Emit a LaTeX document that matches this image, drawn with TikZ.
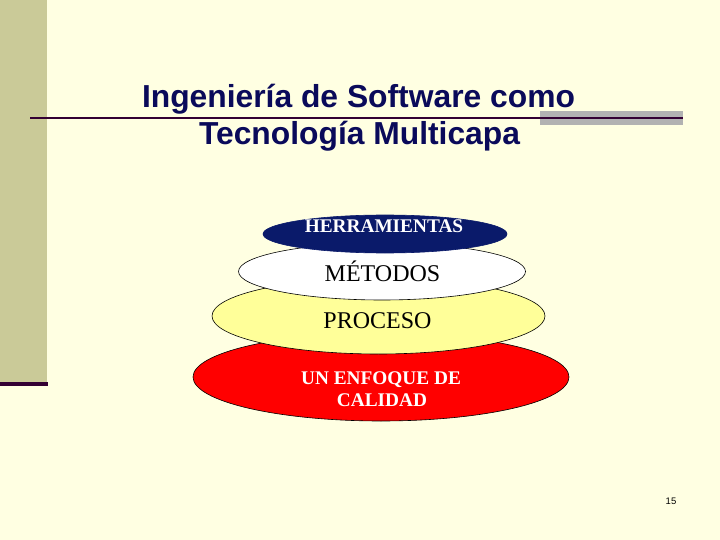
\documentclass[tikz,border=0pt]{standalone}
\usepackage{fontspec}
\setmainfont{Liberation Serif}
\newfontfamily\arialfont{Liberation Sans}
\usetikzlibrary{shapes.geometric}
\definecolor{bgc}{HTML}{FFFFE2}
\definecolor{barc}{HTML}{CACA98}
\definecolor{darkp}{HTML}{330033}
\definecolor{grayr}{HTML}{B2B2B2}
\definecolor{titlec}{HTML}{0A0A5A}
\definecolor{navyc}{HTML}{0A1A6A}
\definecolor{yelc}{HTML}{FFFF99}
\definecolor{redc}{HTML}{FF0000}
\tikzset{
  layer/.style={ellipse, draw=black, line width=0.6pt, inner sep=0pt},
  titletxt/.style={font=\arialfont\bfseries\fontsize{31.8}{38}\selectfont, text=titlec, anchor=base, inner sep=0pt},
  boldlbl/.style={font=\bfseries\fontsize{19.3}{22}\selectfont, text=white, anchor=base, inner sep=0pt},
  plainlbl/.style={font=\fontsize{24}{28}\selectfont, text=black, anchor=base, inner sep=0pt}
}
\begin{document}
\begin{tikzpicture}[x=1pt,y=-1pt]
\useasboundingbox (0,0) rectangle (720,540);
\fill[bgc] (0,0) rectangle (720,540);
% left bar
\fill[barc] (0,0) rectangle (47,382);
\fill[darkp] (0,382) rectangle (48,386);
% title rule
\fill[grayr] (540,111) rectangle (683,125);
\draw[darkp, line width=2pt] (30,118) -- (683,118);
% title
\node[titletxt] (t1) at (358.5,107.5) {Ingeniería de Software como};
\node[titletxt] (t2) at (359.5,145) {Tecnología Multicapa};
% layers
\node[layer, fill=redc, minimum width=376pt, minimum height=88pt] (calidad) at (381,377) {};
\node[layer, fill=yelc, minimum width=333pt, minimum height=76pt] (proceso) at (378.5,316) {};
\node[layer, fill=white, minimum width=287pt, minimum height=57pt] (metodos) at (382,271.5) {};
\node[layer, fill=navyc, draw=navyc, minimum width=244pt, minimum height=38pt] (herr) at (385,234) {};
% labels
\node[boldlbl] (lh) at (384,233) {HERRAMIENTAS};
\node[plainlbl] (lm) at (382.5,281) {MÉTODOS};
\node[plainlbl] (lp) at (377.5,328) {PROCESO};
\node[boldlbl] (lc1) at (381,384) {UN ENFOQUE DE};
\node[boldlbl] (lc2) at (382,406) {CALIDAD};
% page number
\node[font=\arialfont\fontsize{9.5}{11}\selectfont, anchor=base, inner sep=0pt] (pg) at (671,504) {15};
\end{tikzpicture}
\end{document}
